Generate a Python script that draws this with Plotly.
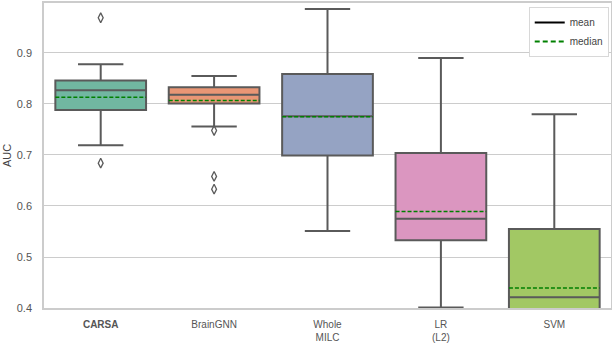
import plotly.graph_objects as go

categories = ["<b>CARSA</b>", "BrainGNN", "Whole<br>MILC", "LR<br>(L2)", "SVM"]
q1 = [0.788, 0.801, 0.699, 0.533, 0.38]
median = [0.827, 0.818, 0.776, 0.575, 0.421]
q3 = [0.846, 0.833, 0.859, 0.704, 0.555]
lower_whisker = [0.719, 0.756, 0.551, 0.401, 0.30]
upper_whisker = [0.878, 0.855, 0.986, 0.890, 0.780]
mean = [0.813, 0.807, 0.775, 0.589, 0.439]
outlier_cat = [0, 0, 1, 1, 1]
outlier_val = [0.969, 0.684, 0.748, 0.658, 0.633]
colors = ["#71b7a1", "#e99675", "#95a3c3", "#db96c0", "#a2c864"]

LINE = "#5a5a5a"
BOXW = 0.8

fig = go.Figure()
for i in range(len(categories)):
    fig.add_trace(go.Box(
        x=[i], q1=[q1[i]], median=[median[i]], q3=[q3[i]],
        lowerfence=[lower_whisker[i]], upperfence=[upper_whisker[i]],
        width=BOXW, whiskerwidth=0.5, fillcolor=colors[i],
        line=dict(color=LINE, width=2), boxpoints=False,
        showlegend=False, hoverinfo="skip",
    ))

fig.add_trace(go.Scatter(
    x=outlier_cat, y=outlier_val, mode="markers",
    marker=dict(symbol="diamond-tall-open", size=7, color=LINE, line=dict(width=1.3, color=LINE)),
    showlegend=False, hoverinfo="skip",
))

for i in range(len(categories)):
    fig.add_trace(go.Scatter(
        x=[i - BOXW / 2, i + BOXW / 2], y=[mean[i], mean[i]], mode="lines",
        line=dict(color="green", width=1.5, dash="4px,2px"),
        showlegend=False, hoverinfo="skip",
    ))

fig.add_trace(go.Scatter(x=[None], y=[None], mode="lines", name="mean",
                         line=dict(color="black", width=2)))
fig.add_trace(go.Scatter(x=[None], y=[None], mode="lines", name="median",
                         line=dict(color="green", width=2, dash="5px,3px")))

fig.update_layout(
    width=612, height=344,
    margin=dict(l=44, r=1, t=3, b=36),
    paper_bgcolor="white", plot_bgcolor="white",
    font=dict(family="Liberation Sans, Arial, sans-serif", size=10, color="#555555"),
    legend=dict(x=0.996, y=0.987, xanchor="right", yanchor="top",
                bgcolor="white", bordercolor="#d8d8d8", borderwidth=1,
                font=dict(size=10, color="#444444"), itemwidth=30,
                tracegroupgap=0),
    xaxis=dict(range=[-0.5, 4.5], tickmode="array", tickvals=list(range(len(categories))),
               ticktext=categories, showgrid=False, zeroline=False,
               showline=True, linecolor="#cccccc", linewidth=1.5, mirror=True,
               ticks="", ticklabelstandoff=6, automargin=False),
    yaxis=dict(range=[0.4, 0.998], tickmode="array",
               tickvals=[0.4, 0.5, 0.6, 0.7, 0.8, 0.9],
               ticktext=["0.4", "0.5", "0.6", "0.7", "0.8", "0.9"],
               tickfont=dict(size=11),
               showgrid=True, gridcolor="#cccccc", gridwidth=1.3, zeroline=False,
               showline=True, linecolor="#cccccc", linewidth=1.5, mirror=True,
               ticks="", ticklabelstandoff=8, automargin=False,
               title=dict(text="AUC", standoff=3, font=dict(size=11, color="#444444"))),
)

fig.write_html("out.html", config={"displayModeBar": False},
               post_script="document.body.style.margin='0';document.body.style.padding='0';")
